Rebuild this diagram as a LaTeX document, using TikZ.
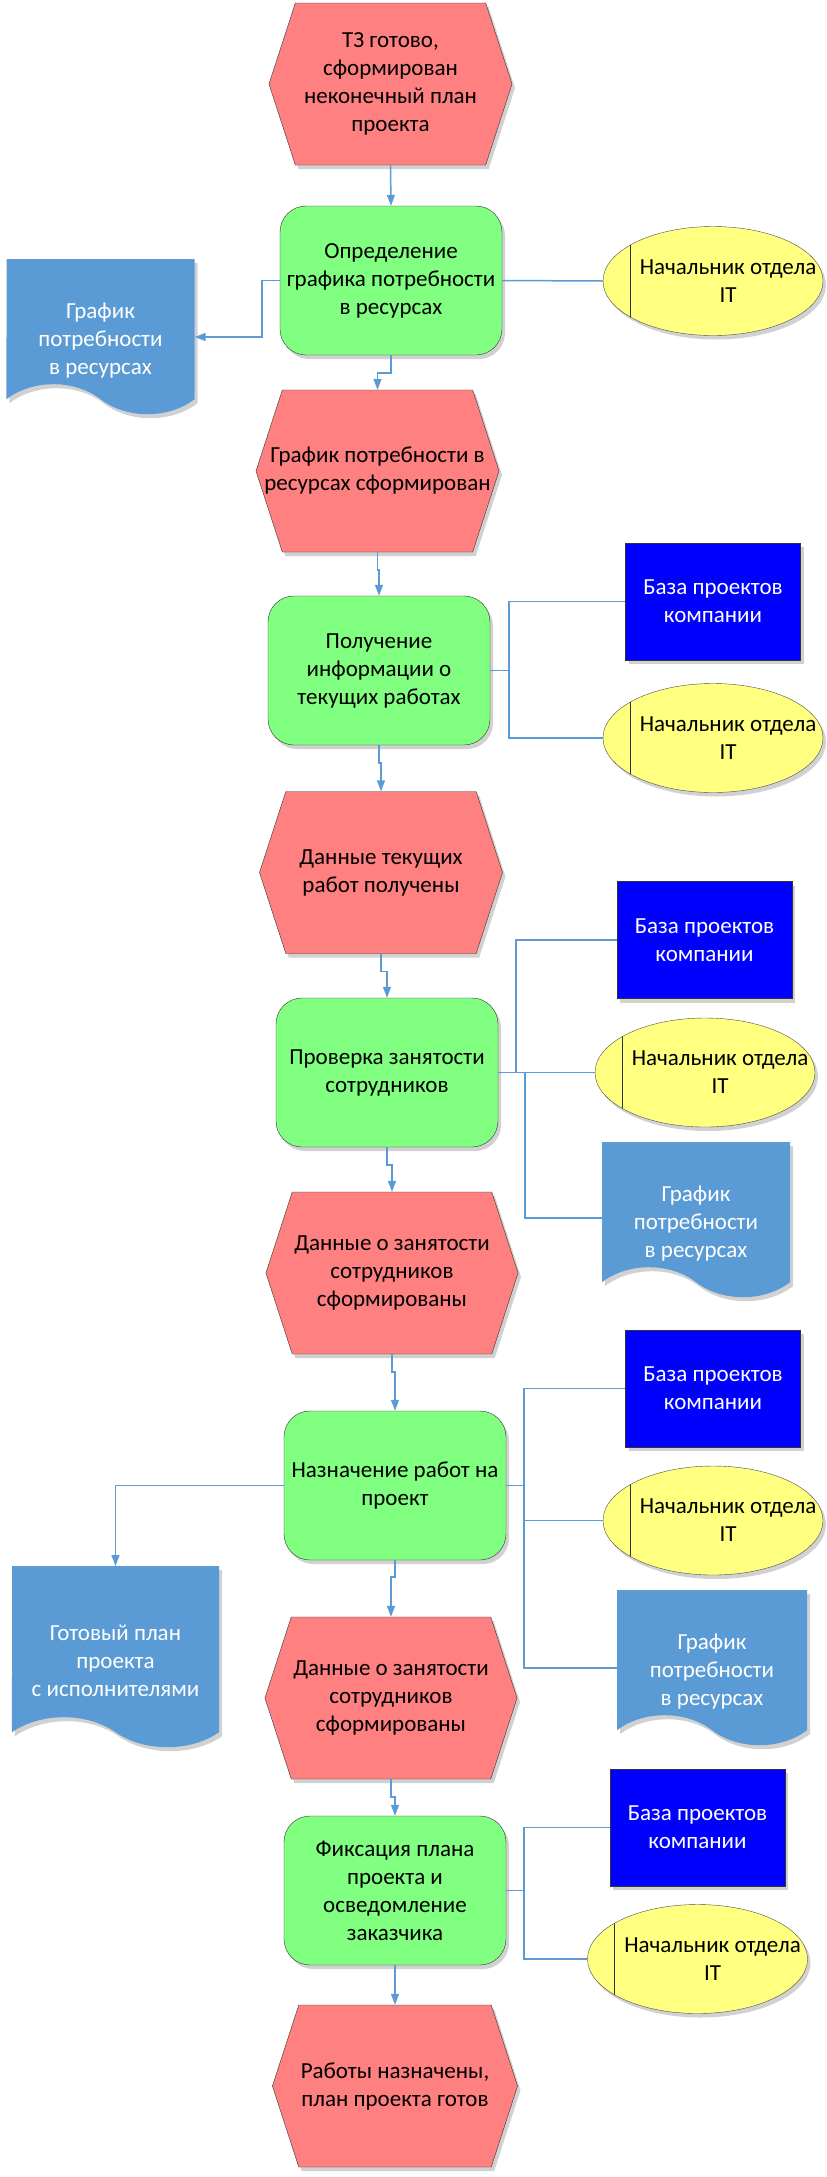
\documentclass[tikz,border=0pt]{standalone}
\usepackage{fontspec}
\setmainfont{Carlito}
\usepackage{tikz}
\usetikzlibrary{shapes,shapes.symbols,shapes.geometric,arrows.meta,positioning,calc,shadows}
\definecolor{evtred}{HTML}{FF8080}
\definecolor{fngreen}{HTML}{80FF80}
\definecolor{actyellow}{HTML}{FFFF80}
\definecolor{dbblue}{HTML}{0000FF}
\definecolor{docblue}{HTML}{5B9BD5}
\definecolor{lnblue}{HTML}{5B9BD5}
\begin{document}
\begin{tikzpicture}[x=1pt, y=-1pt,
    shade/.style={drop shadow={shadow xshift=3pt, shadow yshift=-4pt, opacity=0.18, fill=black}},
    txt/.style={font=\fontsize{23}{28}\selectfont, align=center},
    evt/.style={txt, shade, signal, signal to=west and east, signal pointer angle=144, draw=black!80, fill=evtred, minimum width=243pt, minimum height=162pt, inner sep=2pt},
    fn/.style={txt, shade, rectangle, rounded corners=26pt, draw=black!80, fill=fngreen, minimum width=222pt, minimum height=149pt, inner sep=2pt},
    db/.style={txt, shade, rectangle, draw=black!80, fill=dbblue, text=white, minimum width=175pt, minimum height=117pt},
    actor/.style={shade, ellipse, draw=black!70, fill=actyellow, minimum width=220pt, minimum height=109pt,
        path picture={\draw[black!80] ([xshift=27pt]path picture bounding box.north west) -- ([xshift=27pt]path picture bounding box.south west);}},
    actortxt/.style={txt, xshift=15pt},
    doc/.style={shade, tape, tape bend top=none, tape bend bottom=out and in, tape bend height=30pt, fill=docblue, minimum width=188pt, minimum height=155pt, anchor=north},
    doctxt/.style={txt, text=white, yshift=-19pt},
    flow/.style={lnblue, line width=1.5pt, -{Triangle[length=11pt, width=8pt]}},
    link/.style={lnblue, line width=1.5pt},
]
\useasboundingbox (0,0) rectangle (827,2177);

% events
\node[evt] (e1) at (390.5,84) {ТЗ готово,\\сформирован\\неконечный план\\проекта};
\node[evt, label={[txt]center:График потребности в\\ресурсах сформирован}] (e2) at (377.5,471) {};
\node[evt] (e3) at (381,872.5) {Данные текущих\\работ получены};
\node[evt] (e4) at (392,1273) {Данные о занятости\\сотрудников\\сформированы};
\node[evt] (e5) at (391,1698) {Данные о занятости\\сотрудников\\сформированы};
\node[evt] (e6) at (395,2086) {Работы назначены,\\план проекта готов};

% functions
\node[fn] (f1) at (391,280.5) {Определение\\графика потребности\\в ресурсах};
\node[fn] (f2) at (379,670.5) {Получение\\информации о\\текущих работах};
\node[fn] (f3) at (387,1072.5) {Проверка занятости\\сотрудников};
\node[fn] (f4) at (395,1485.5) {Назначение работ на\\проект};
\node[fn] (f5) at (395,1890.5) {Фиксация плана\\проекта и\\осведомление\\заказчика};

% databases
\node[db] (db2) at (713,601.5) {База проектов\\компании};
\node[db] (db3) at (704.5,940) {База проектов\\компании};
\node[db] (db4) at (713,1388.5) {База проектов\\компании};
\node[db] (db5) at (697.5,1827.5) {База проектов\\компании};

% actors
\node[actor, label={[actortxt]center:Начальник отдела\\IT}] (a1) at (713,281) {};
\node[actor, label={[actortxt]center:Начальник отдела\\IT}] (a2) at (713,738) {};
\node[actor, label={[actortxt]center:Начальник отдела\\IT}] (a3) at (705,1072.5) {};
\node[actor, label={[actortxt]center:Начальник отдела\\IT}] (a4) at (713,1520.5) {};
\node[actor, label={[actortxt]center:Начальник отдела\\IT}] (a5) at (697.5,1959) {};

% documents
\node[doc, label={[doctxt]center:График\\потребности\\в ресурсах}] (doc1) at (100.5,259) {};
\node[doc, label={[doctxt]center:График\\потребности\\в ресурсах}] (doc3) at (696,1142) {};
\node[doc, minimum width=207pt, minimum height=181pt, label={[doctxt]center:Готовый план\\проекта\\с исполнителями}] (doc4l) at (115.5,1566) {};
\node[doc, minimum width=190pt, label={[doctxt]center:График\\потребности\\в ресурсах}] (doc4r) at (712,1590) {};

% main flow
\draw[flow] (e1.south) -- (f1.north);
\draw[flow] (f1.south) -- ++(0,18) -| (e2.north);
\draw[flow] (e2.south) -- ++(0,18) -| (f2.north);
\draw[flow] (f2.south) -- ++(0,18) -| (e3.north);
\draw[flow] (e3.south) -- ++(0,18) -| (f3.north);
\draw[flow] (f3.south) -- ++(0,18) -| (e4.north);
\draw[flow] (e4.south) -- ++(0,18) -| (f4.north);
\draw[flow] (f4.south) -- ++(0,17) -| (e5.north);
\draw[flow] (e5.south) -- ++(0,18) -| (f5.north);
\draw[flow] (f5.south) -- (e6.north);

% outputs
\draw[flow] (f1.west) -- ++(-18,0) |- ([yshift=-78pt]doc1.north east);
\draw[flow] (f4.west) -| (doc4l.north);

% resources
\draw[link] (f1.east) -- (a1.west);
\draw[link] (f2.east) -- ++(19,0) |- (db2.west);
\draw[link] (f2.east) -- ++(19,0) |- (a2.west);
\draw[link] (f3.east) -- ++(18,0) |- (db3.west);
\draw[link] (f3.east) -- (a3.west);
\draw[link] (f3.east) -- ++(27,0) |- ([yshift=-76pt]doc3.north west);
\draw[link] (f4.east) -- ++(18,0) |- (db4.west);
\draw[link] (f4.east) -- ++(18,0) |- (a4.west);
\draw[link] (f4.east) -- ++(18,0) |- ([yshift=-78pt]doc4r.north west);
\draw[link] (f5.east) -- ++(18,0) |- (db5.west);
\draw[link] (f5.east) -- ++(18,0) |- (a5.west);
\end{tikzpicture}
\end{document}
